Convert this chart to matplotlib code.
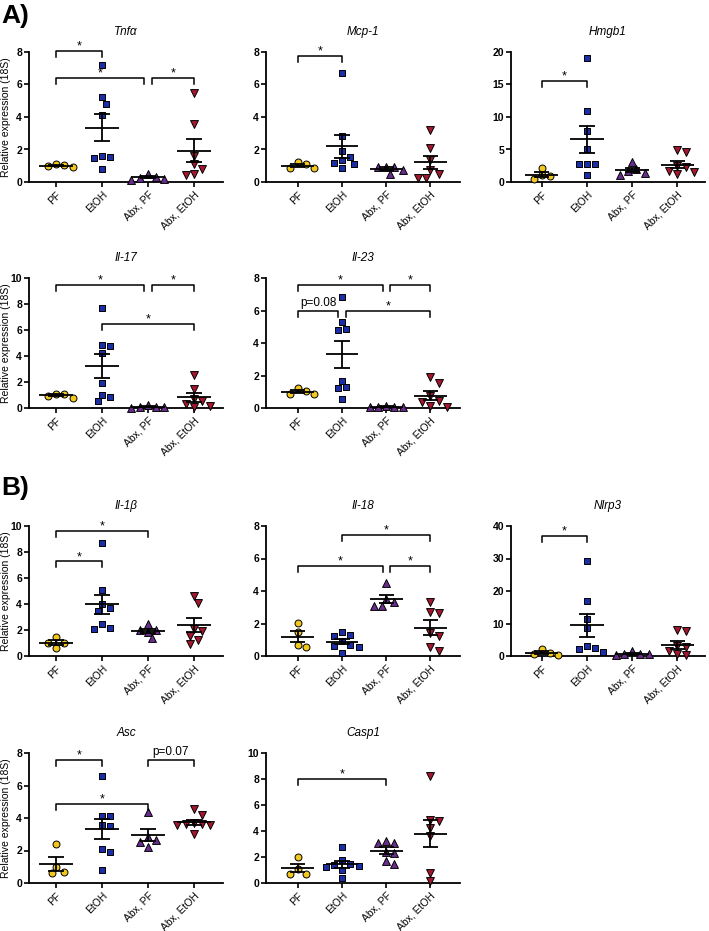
import numpy as np
import matplotlib
matplotlib.use('Agg')
import matplotlib.pyplot as plt

plt.rcParams['font.family'] = ['Liberation Sans', 'DejaVu Sans']

groups = ['PF', 'EtOH', 'Abx, PF', 'Abx, EtOH']
colors = ['#f2c81c', '#1b2ea6', '#6a2d8e', '#a3182f']
markers = ['o', 's', '^', 'v']

# values, one list per group
tnfa = [[1.05, 0.9, 0.97, 1.12],
        [7.18, 5.25, 4.82, 4.14, 1.54, 1.5, 1.58, 0.82],
        [0.5, 0.25, 0.15, 0.2, 0.3],
        [5.5, 3.55, 1.6, 1.1, 0.8, 0.45, 0.5]]
mcp1 = [[1.1, 0.85, 0.88, 1.2],
        [6.7, 2.81, 1.89, 1.54, 1.37, 1.19, 1.13, 0.86],
        [0.95, 0.95, 0.5, 0.95, 0.75],
        [3.22, 2.09, 1.37, 0.51, 0.72, 0.27, 0.27]]
hmgb1 = [[2.2, 1.03, 0.87, 0.41],
         [19.08, 10.92, 7.85, 5.13, 2.72, 2.72, 2.82, 1.13],
         [3.08, 1.69, 2.05, 1.03, 1.38],
         [4.6, 4.85, 2.5, 2.3, 1.7, 1.3, 1.55]]
il17 = [[1.07, 0.8, 0.95, 1.1],
        [7.7, 4.85, 4.77, 4.26, 1.96, 1.02, 0.84, 0.51],
        [0.2, 0.08, 0.03, 0.05, 0.07],
        [2.55, 1.45, 0.7, 0.55, 0.3, 0.15, 0.1]]
il23 = [[1.03, 0.88, 0.88, 1.25],
        [6.81, 5.29, 4.88, 4.78, 1.68, 1.27, 1.21, 0.55],
        [0.15, 0.05, 0.05, 0.05, 0.08],
        [1.9, 1.55, 0.75, 0.4, 0.45, 0.08, 0.1]]
il1b = [[1.45, 1.02, 1.02, 0.64],
        [8.7, 5.1, 4.0, 3.7, 3.45, 2.5, 2.1, 2.15],
        [2.45, 2.0, 2.0, 1.85, 1.35],
        [4.65, 4.1, 2.1, 1.95, 1.55, 1.25, 0.95]]
il18 = [[2.01, 1.5, 0.55, 0.68],
        [1.5, 1.3, 1.25, 0.9, 0.7, 0.55, 0.6, 0.18],
        [4.51, 3.34, 3.49, 3.08, 3.08],
        [3.34, 2.67, 2.71, 1.44, 1.23, 0.55, 0.31]]
nlrp3 = [[2.1, 1.0, 0.3, 0.7],
         [29.2, 16.9, 11.5, 8.5, 2.56, 3.08, 2.05, 1.33],
         [1.5, 0.7, 0.5, 0.45, 0.6],
         [7.6, 7.9, 3.0, 2.8, 1.4, 0.5, 0.4]]
asc = [[2.4, 1.0, 0.7, 0.6],
       [6.6, 4.1, 4.1, 3.6, 3.5, 2.1, 1.9, 0.8],
       [4.35, 2.86, 2.65, 2.55, 2.24],
       [4.55, 4.2, 3.7, 3.65, 3.6, 3.55, 3.65, 3.0]]
casp1 = [[2.0, 1.1, 0.7, 0.7],
         [2.8, 1.8, 1.45, 1.4, 1.3, 1.25, 1.0, 0.4],
         [3.2, 3.1, 3.1, 2.4, 2.3, 1.5, 1.7],
         [8.26, 4.87, 4.74, 4.23, 3.64, 0.77, 0.13]]

# significance brackets: (group a, group b, height, label)
tnfa_sig = [(0, 1, 8.05, '*'), (0, 2, 6.42, '*'), (2, 3, 6.42, '*')]
mcp1_sig = [(0, 1, 7.73, '*')]
hmgb1_sig = [(0, 1, 15.6, '*')]
il17_sig = [(0, 2, 9.44, '*'), (2, 3, 9.44, '*'), (1, 3, 6.5, '*')]
il23_sig = [(0, 2, 7.59, '*'), (2, 3, 7.59, '*'), (0, 1, 5.99, 'p=0.08'), (1, 3, 5.99, '*')]
il1b_sig = [(0, 2, 9.64, '*'), (0, 1, 7.27, '*')]
il18_sig = [(1, 3, 7.43, '*'), (0, 2, 5.54, '*'), (2, 3, 5.54, '*')]
nlrp3_sig = [(0, 1, 36.9, '*')]
asc_sig = [(0, 1, 7.55, '*'), (0, 2, 4.86, '*'), (2, 3, 7.55, 'p=0.07')]
casp1_sig = [(0, 2, 8.03, '*')]

panels = [
    ('Tnf\u03b1', tnfa, 8, 2, tnfa_sig, 0, 0),
    ('Mcp-1', mcp1, 8, 2, mcp1_sig, 0, 1),
    ('Hmgb1', hmgb1, 20, 5, hmgb1_sig, 0, 2),
    ('Il-17', il17, 10, 2, il17_sig, 1, 0),
    ('Il-23', il23, 8, 2, il23_sig, 1, 1),
    ('Il-1\u03b2', il1b, 10, 2, il1b_sig, 2, 0),
    ('Il-18', il18, 8, 2, il18_sig, 2, 1),
    ('Nlrp3', nlrp3, 40, 10, nlrp3_sig, 2, 2),
    ('Asc', asc, 8, 2, asc_sig, 3, 0),
    ('Casp1', casp1, 10, 2, casp1_sig, 3, 1),
]

W, H = 709, 931
col_x = [29, 266, 511]
col_xlim = [(-0.59, 3.635), (-0.72, 3.67), (-0.68, 3.61)]
row_top = [52, 278, 526, 753]
ax_w, ax_h = 194, 130


def swarm(vals, center, xppu, yppu, d=7.5):
    vals = np.asarray(vals, dtype=float)
    xs = np.zeros(len(vals))
    placed = []
    step = d * 0.55
    for i in np.argsort(-vals):
        y = vals[i] * yppu
        for k in range(40):
            off = 0 if k == 0 else ((k + 1) // 2) * step * (1 if k % 2 else -1)
            if all(np.hypot(off - px, y - py) >= d for px, py in placed):
                break
        placed.append((off, y))
        xs[i] = center + off / xppu
    return xs


fig = plt.figure(figsize=(W / 100, H / 100), dpi=100)

for name, data, ymax, step, sig, r, c in panels:
    ax = fig.add_axes([col_x[c] / W, 1 - (row_top[r] + ax_h) / H, ax_w / W, ax_h / H])
    xlim = col_xlim[c]
    ax.set_xlim(*xlim)
    ax.set_ylim(0, ymax)
    xppu = ax_w / (xlim[1] - xlim[0])
    yppu = ax_h / ymax

    for g, vals in enumerate(data):
        xs = swarm(vals, g, xppu, yppu)
        s = 32 if markers[g] in '^v' else 25
        ax.scatter(xs, vals, s=s, marker=markers[g], c=colors[g], edgecolors='k',
                   linewidths=0.7, zorder=3, clip_on=False)
        m = np.mean(vals)
        se = np.std(vals, ddof=1) / np.sqrt(len(vals))
        ax.hlines(m, g - 0.37, g + 0.37, color='k', lw=1.3, zorder=4)
        ax.vlines(g, m - se, m + se, color='k', lw=1.3, zorder=4)
        ax.hlines([m - se, m + se], g - 0.17, g + 0.17, color='k', lw=1.3, zorder=4)

    # brackets
    leg = 6 / yppu
    for a, b, y, txt in sig:
        x1, x2 = a, b
        for a2, b2, y2, _ in sig:
            if abs(y2 - y) < 1e-9 and b2 == a:
                x1 = a + 0.08
            if abs(y2 - y) < 1e-9 and a2 == b:
                x2 = b - 0.08
        ax.plot([x1, x1, x2, x2], [y - leg, y, y, y - leg], color='k', lw=1.1,
                clip_on=False, zorder=5)
        if txt == '*':
            ax.text((x1 + x2) / 2, y + 4.5 / yppu, txt, ha='center', va='center',
                    fontsize=9)
        else:
            ax.text((x1 + x2) / 2, y + 2 / yppu, txt, ha='center', va='bottom',
                    fontsize=8.5)

    ax.set_yticks(np.arange(0, ymax + step / 2, step))
    ax.set_xticks(range(4))
    ax.set_xticklabels(groups, rotation=45, ha='right', rotation_mode='anchor',
                       fontsize=7.5)
    for lab in ax.get_yticklabels():
        lab.set_fontweight('bold')
    ax.tick_params(axis='y', labelsize=7.5, direction='out', length=3.5, width=1.2, pad=1.5)
    ax.tick_params(axis='x', direction='out', length=3.5, width=1.2, pad=2)
    for sp in ['top', 'right']:
        ax.spines[sp].set_visible(False)
    for sp in ['left', 'bottom']:
        ax.spines[sp].set_linewidth(1.3)
    ax.set_title(name, style='italic', fontsize=8.5, pad=12)
    if c == 0:
        ax.set_ylabel('Relative expression (18S)', fontsize=7.5)
        ax.yaxis.set_label_coords(-0.093, 0.5)

fig.text(1 / W, 1 - 4 / H, 'A)', fontsize=19, fontweight='bold', va='top', ha='left')
fig.text(1 / W, 1 - 476 / H, 'B)', fontsize=19, fontweight='bold', va='top', ha='left')

fig.savefig('out.png', dpi=100)
